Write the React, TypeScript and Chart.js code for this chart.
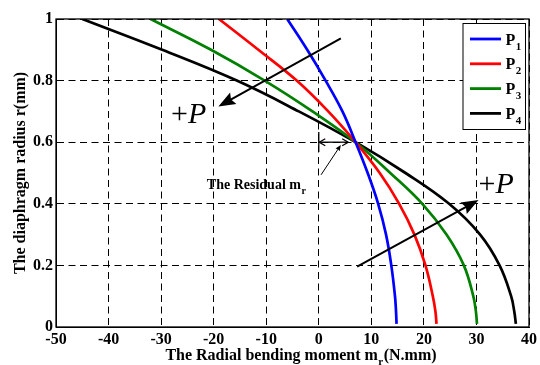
import React, { useEffect, useRef } from "react";
import { Chart, registerables } from "chart.js";

Chart.register(...registerables);

// ---- data (radius r in mm, radial bending moment m_r in N.mm) ----
const RADIUS = [1, 0.9, 0.8, 0.7, 0.6, 0.5, 0.4, 0.3, 0.2, 0.1, 0.05, 0.01];
const MOMENT_P1 = [-6.0, -2.2, 1.3, 4.5, 7.0, 9.3, 11.3, 12.8, 13.8, 14.5, 14.7, 14.8];
const MOMENT_P2 = [-19.0, -11.5, -4.2, 1.8, 7.0, 11.6, 15.3, 18.2, 20.3, 21.7, 22.2, 22.4];
const MOMENT_P3 = [-32.0, -20.5, -10.3, -1.2, 7.0, 13.6, 19.7, 24.3, 27.6, 29.4, 29.9, 30.1];
const MOMENT_P4 = [-45.0, -29.8, -15.6, -3.8, 7.0, 16.5, 24.8, 30.7, 34.4, 36.6, 37.2, 37.5];
const SERIES = [MOMENT_P1, MOMENT_P2, MOMENT_P3, MOMENT_P4];
const SERIES_SUBSCRIPTS = ["1", "2", "3", "4"];
const SERIES_COLORS = ["#0000ff", "#ff0000", "#008000", "#000000"];

const X_TICKS = [-50, -40, -30, -20, -10, 0, 10, 20, 30, 40];
const Y_TICKS = [0, 0.2, 0.4, 0.6, 0.8, 1];

const X_TITLE_MAIN = "The Radial bending moment m";
const X_TITLE_SUB = "r";
const X_TITLE_TAIL = "(N.mm)";
const Y_TITLE = "The diaphragm radius r(mm)";
const RESIDUAL_TEXT = "The Residual m";
const RESIDUAL_SUB = "r";

// ---- annotation anchors, in data coordinates ----
const ARROW_UP_LEFT = { from: [4.2, 0.937], to: [-19.1, 0.716] };
const ARROW_DOWN_RIGHT = { from: [7.3, 0.196], to: [30.4, 0.412] };
const PLUS_P_ANCHORS = [
  [-28.1, 0.662],
  [30.4, 0.435],
];
const RESIDUAL_SPAN = { x0: 0, x1: 5.6, r: 0.6, tickTop: 0.633, tickBottom: 0.568 };
const RESIDUAL_POINTER = { from: [0.43, 0.494], to: [4.2, 0.591] };
const RESIDUAL_LABEL_ANCHOR = [-21.3, 0.447];

const SERIF = '"Times New Roman", "Liberation Serif", serif';

function filledArrow(
  ctx: CanvasRenderingContext2D,
  x0: number,
  y0: number,
  x1: number,
  y1: number,
  headLen: number,
  headHalf: number,
  lw: number
) {
  const a = Math.atan2(y1 - y0, x1 - x0);
  const c = Math.cos(a);
  const s = Math.sin(a);
  const bx = x1 - headLen * c;
  const by = y1 - headLen * s;
  ctx.save();
  ctx.strokeStyle = "#000";
  ctx.fillStyle = "#000";
  ctx.lineWidth = lw;
  ctx.beginPath();
  ctx.moveTo(x0, y0);
  ctx.lineTo(bx + headLen * 0.2 * c, by + headLen * 0.2 * s);
  ctx.stroke();
  ctx.beginPath();
  ctx.moveTo(x1, y1);
  ctx.lineTo(bx + headHalf * s, by - headHalf * c);
  ctx.lineTo(bx + headLen * 0.15 * c, by + headLen * 0.15 * s);
  ctx.lineTo(bx - headHalf * s, by + headHalf * c);
  ctx.closePath();
  ctx.fill();
  ctx.restore();
}

function openHead(
  ctx: CanvasRenderingContext2D,
  tx: number,
  ty: number,
  dir: number,
  len: number,
  half: number
) {
  ctx.beginPath();
  ctx.moveTo(tx - dir * len, ty - half);
  ctx.lineTo(tx, ty);
  ctx.lineTo(tx - dir * len, ty + half);
  ctx.stroke();
}

const annotationPlugin = {
  id: "annotations",
  afterDatasetsDraw(chart: any) {
    const ctx: CanvasRenderingContext2D = chart.ctx;
    const xs = chart.scales.x;
    const ys = chart.scales.y;
    const px = (v: number) => xs.getPixelForValue(v);
    const py = (v: number) => ys.getPixelForValue(v);
    const area = chart.chartArea;

    // big arrows
    filledArrow(
      ctx,
      px(ARROW_UP_LEFT.from[0]),
      py(ARROW_UP_LEFT.from[1]),
      px(ARROW_UP_LEFT.to[0]),
      py(ARROW_UP_LEFT.to[1]),
      17,
      6.5,
      2
    );
    filledArrow(
      ctx,
      px(ARROW_DOWN_RIGHT.from[0]),
      py(ARROW_DOWN_RIGHT.from[1]),
      px(ARROW_DOWN_RIGHT.to[0]),
      py(ARROW_DOWN_RIGHT.to[1]),
      17,
      6.5,
      2
    );

    // +P labels
    ctx.save();
    ctx.fillStyle = "#000";
    ctx.textBaseline = "alphabetic";
    ctx.textAlign = "left";
    for (const [ax, ar] of PLUS_P_ANCHORS) {
      const x = px(ax);
      const y = py(ar);
      ctx.font = `30px ${SERIF}`;
      ctx.fillText("+", x, y);
      const w = ctx.measureText("+").width;
      ctx.font = `italic 30px ${SERIF}`;
      ctx.fillText("P", x + w, y);
    }
    ctx.restore();

    // residual double arrow
    ctx.save();
    ctx.strokeStyle = "#000";
    ctx.lineWidth = 1.3;
    const rx0 = px(RESIDUAL_SPAN.x0);
    const rx1 = px(RESIDUAL_SPAN.x1);
    const ry = py(RESIDUAL_SPAN.r);
    ctx.beginPath();
    ctx.moveTo(rx0, py(RESIDUAL_SPAN.tickTop));
    ctx.lineTo(rx0, py(RESIDUAL_SPAN.tickBottom));
    ctx.stroke();
    ctx.beginPath();
    ctx.moveTo(rx0, ry);
    ctx.lineTo(rx1, ry);
    ctx.stroke();
    openHead(ctx, rx0 + 0.5, ry, -1, 6, 3.5);
    openHead(ctx, rx1, ry, 1, 6, 3.5);
    ctx.restore();

    filledArrow(
      ctx,
      px(RESIDUAL_POINTER.from[0]),
      py(RESIDUAL_POINTER.from[1]),
      px(RESIDUAL_POINTER.to[0]),
      py(RESIDUAL_POINTER.to[1]),
      6,
      2.5,
      1
    );

    // residual label
    ctx.save();
    ctx.fillStyle = "#000";
    ctx.textBaseline = "alphabetic";
    ctx.textAlign = "left";
    ctx.font = `bold 14px ${SERIF}`;
    const lx = px(RESIDUAL_LABEL_ANCHOR[0]);
    const ly = py(RESIDUAL_LABEL_ANCHOR[1]);
    ctx.fillText(RESIDUAL_TEXT, lx, ly);
    const lw = ctx.measureText(RESIDUAL_TEXT).width;
    ctx.font = `bold 10px ${SERIF}`;
    ctx.fillText(RESIDUAL_SUB, lx + lw + 0.5, ly + 5);
    ctx.restore();

    // legend
    ctx.save();
    const boxR = area.right - 3.5;
    const boxL = boxR - 62.5;
    const boxT = area.top + 4.5;
    const boxB = boxT + 106;
    ctx.fillStyle = "#fff";
    ctx.fillRect(boxL, boxT, boxR - boxL, boxB - boxT);
    ctx.strokeStyle = "#000";
    ctx.lineWidth = 1;
    ctx.strokeRect(boxL, boxT, boxR - boxL, boxB - boxT);
    SERIES_SUBSCRIPTS.forEach((sub, i) => {
      const y = boxT + 15.5 + i * 24.8;
      ctx.strokeStyle = SERIES_COLORS[i];
      ctx.lineWidth = 2.8;
      ctx.beginPath();
      ctx.moveTo(boxL + 7, y);
      ctx.lineTo(boxL + 38, y);
      ctx.stroke();
      ctx.fillStyle = "#000";
      ctx.font = `bold 16px ${SERIF}`;
      ctx.textBaseline = "alphabetic";
      ctx.fillText("P", boxL + 42.5, y + 5.5);
      const pw = ctx.measureText("P").width;
      ctx.font = `bold 11px ${SERIF}`;
      ctx.fillText(sub, boxL + 42.5 + pw + 0.5, y + 10.5);
    });
    ctx.restore();
  },
  afterDraw(chart: any) {
    const ctx: CanvasRenderingContext2D = chart.ctx;
    const area = chart.chartArea;
    // axes box
    ctx.save();
    ctx.strokeStyle = "#000";
    ctx.lineWidth = 1.3;
    ctx.setLineDash([]);
    ctx.strokeRect(area.left, area.top, area.right - area.left, area.bottom - area.top);
    ctx.restore();

    // axis titles
    ctx.save();
    ctx.fillStyle = "#000";
    ctx.textBaseline = "alphabetic";
    ctx.textAlign = "left";
    ctx.font = `bold 16px ${SERIF}`;
    const mainW = ctx.measureText(X_TITLE_MAIN).width;
    ctx.font = `bold 11px ${SERIF}`;
    const subW = ctx.measureText(X_TITLE_SUB).width;
    ctx.font = `bold 16px ${SERIF}`;
    const tailW = ctx.measureText(X_TITLE_TAIL).width;
    const total = mainW + subW + 1 + tailW;
    const cx = (area.left + area.right) / 2 + 8.5;
    let x = cx - total / 2;
    const by = 359.5;
    ctx.fillText(X_TITLE_MAIN, x, by);
    x += mainW;
    ctx.font = `bold 11px ${SERIF}`;
    ctx.fillText(X_TITLE_SUB, x + 0.5, by + 5);
    x += subW + 1;
    ctx.font = `bold 16px ${SERIF}`;
    ctx.fillText(X_TITLE_TAIL, x, by);

    ctx.translate(24.5, (area.top + area.bottom) / 2);
    ctx.rotate(-Math.PI / 2);
    ctx.textAlign = "center";
    ctx.fillText(Y_TITLE, 0, 0);
    ctx.restore();
  },
};

export default function App() {
  const canvasRef = useRef<HTMLCanvasElement | null>(null);

  useEffect(() => {
    const canvas = canvasRef.current;
    if (!canvas) return;
    const tickFont = { family: SERIF, size: 16, weight: "bold" as const };
    const chart = new Chart(canvas, {
      type: "line",
      data: {
        datasets: SERIES.map((vals, i) => ({
          label: "P" + SERIES_SUBSCRIPTS[i],
          data: vals.map((m, j) => ({ x: m, y: RADIUS[j] })),
          borderColor: SERIES_COLORS[i],
          backgroundColor: SERIES_COLORS[i],
          borderWidth: 2.7,
          pointRadius: 0,
          tension: 0.4,
          fill: false,
        })),
      },
      options: {
        animation: false,
        responsive: false,
        devicePixelRatio: 1,
        layout: { padding: { top: 19, right: 7, left: 0, bottom: 0 } },
        plugins: {
          legend: { display: false },
          tooltip: { enabled: false },
          title: { display: false },
        },
        scales: {
          x: {
            type: "linear",
            min: -50,
            max: 40,
            afterBuildTicks: (s: any) => {
              s.ticks = X_TICKS.map((v) => ({ value: v }));
            },
            afterFit: (s: any) => {
              s.height = 38;
            },
            grid: { color: "#000", lineWidth: 1, drawTicks: false },
            border: { display: true, color: "#000", width: 1, dash: [7, 4.5] },
            ticks: {
              color: "#000",
              font: tickFont,
              padding: 3,
              maxRotation: 0,
              autoSkip: false,
              callback: (v: any) => String(v),
            },
          },
          y: {
            type: "linear",
            min: 0,
            max: 1,
            afterBuildTicks: (s: any) => {
              s.ticks = Y_TICKS.map((v) => ({ value: v }));
            },
            afterFit: (s: any) => {
              s.width = 56;
            },
            grid: { color: "#000", lineWidth: 1, drawTicks: false },
            border: { display: true, color: "#000", width: 1, dash: [7, 4.5] },
            ticks: {
              color: "#000",
              font: tickFont,
              padding: 3,
              autoSkip: false,
              callback: (v: any) => String(v),
            },
          },
        },
      },
      plugins: [annotationPlugin],
    });
    return () => chart.destroy();
  }, []);

  return (
    <div
      style={{
        position: "fixed",
        left: 0,
        top: 0,
        width: 540,
        height: 365,
        background: "#fff",
      }}
    >
      <canvas ref={canvasRef} width={540} height={365} style={{ display: "block" }} />
    </div>
  );
}
